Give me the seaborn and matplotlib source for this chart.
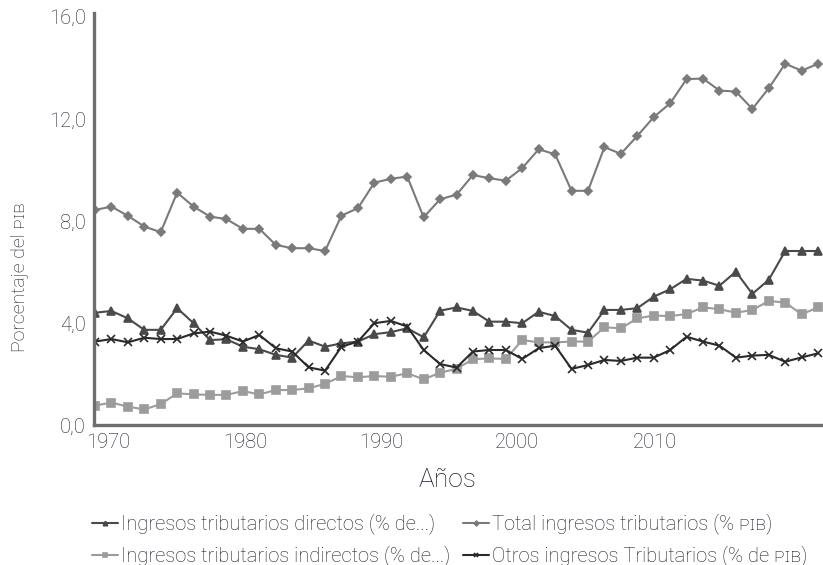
import numpy as np
import pandas as pd
import matplotlib
matplotlib.use("Agg")
import matplotlib.pyplot as plt
import seaborn as sns

# datos (porcentaje del PIB), 45 observaciones
periodo = list(range(45))

directos = [4.40, 4.47, 4.18, 3.73, 3.73, 4.58, 3.99, 3.33, 3.36, 3.07,
            2.97, 2.75, 2.64, 3.31, 3.07, 3.20, 3.27, 3.56, 3.64, 3.79,
            3.44, 4.48, 4.61, 4.47, 4.05, 4.05, 3.99, 4.44, 4.27, 3.73,
            3.62, 4.51, 4.51, 4.58, 5.03, 5.32, 5.73, 5.66, 5.46, 6.01,
            5.14, 5.69, 6.82, 6.82, 6.82]

indirectos = [0.76, 0.88, 0.72, 0.61, 0.82, 1.24, 1.20, 1.18, 1.18, 1.33,
              1.20, 1.37, 1.37, 1.44, 1.61, 1.92, 1.87, 1.92, 1.89, 2.03,
              1.79, 2.05, 2.20, 2.58, 2.61, 2.59, 3.33, 3.24, 3.24, 3.27,
              3.27, 3.83, 3.79, 4.18, 4.29, 4.27, 4.35, 4.61, 4.54, 4.40,
              4.51, 4.86, 4.80, 4.34, 4.61]

total = [8.43, 8.56, 8.20, 7.78, 7.56, 9.11, 8.56, 8.17, 8.07, 7.69,
         7.69, 7.06, 6.93, 6.93, 6.82, 8.21, 8.50, 9.50, 9.65, 9.74,
         8.14, 8.85, 9.03, 9.80, 9.67, 9.58, 10.07, 10.81, 10.61, 9.18,
         9.18, 10.89, 10.63, 11.33, 12.07, 12.61, 13.56, 13.58, 13.11, 13.07,
         12.39, 13.20, 14.16, 13.89, 14.16]

otros = [3.27, 3.37, 3.24, 3.42, 3.37, 3.37, 3.59, 3.66, 3.50, 3.27,
         3.53, 3.01, 2.88, 2.26, 2.13, 3.07, 3.27, 3.99, 4.08, 3.86,
         2.94, 2.39, 2.25, 2.88, 2.94, 2.94, 2.59, 3.01, 3.11, 2.20,
         2.35, 2.55, 2.51, 2.64, 2.64, 2.94, 3.46, 3.27, 3.11, 2.64,
         2.72, 2.75, 2.48, 2.65, 2.81]

etiquetas_x = ["1970", "1980", "1990", "2000", "2010"]
etiquetas_y = ["0,0", "4,0", "8,0", "12,0", "16,0"]

nombres = ["Ingresos tributarios directos (% de...)",
           "Ingresos tributarios indirectos (% de...)",
           "Total ingresos tributarios (% \u1d18\u026a\u0299)",
           "Otros ingresos Tributarios (% de \u1d18\u026a\u0299)"]

sns.set_style("white")
plt.rcParams['font.family'] = ['Roboto', 'DejaVu Sans']
plt.rcParams['font.weight'] = 'light'
txt = '#1e1e2a'

fig = plt.figure(figsize=(8.23, 5.65), dpi=100)
ax = fig.add_axes([94 / 823, 1 - 425 / 565, 729 / 823, 412 / 565])

series = [(directos, '#4a4a4a', '^', 5.8),
          (indirectos, '#9c9c9c', 's', 5.5),
          (total, '#7a7a7a', 'D', 4.3),
          (otros, '#2a2a2a', 'x', 5.5)]
for (vals, col, mk, ms), nom in zip(series, nombres):
    sns.lineplot(x=periodo, y=vals, ax=ax, color=col, marker=mk,
                 markersize=ms, markeredgecolor=col, markeredgewidth=1.2,
                 linewidth=1.5, label=nom)

ax.set_xlim(-0.06, 44.3)
ax.set_ylim(0, 16.15)
ax.set_xticks([0.79, 9.13, 17.41, 25.68, 34.08])
ax.set_xticklabels(etiquetas_x, fontsize=14.5, color=txt)
ax.set_yticks([0, 4, 8, 12, 16])
ax.set_yticklabels(etiquetas_y, fontsize=14.5, color=txt)
ax.tick_params(length=0, pad=6)

for s in ['top', 'right']:
    ax.spines[s].set_visible(False)
for s in ['left', 'bottom']:
    ax.spines[s].set_color('#6e6e6e')
    ax.spines[s].set_linewidth(2.4)

fig.text(448 / 823, 1 - 480 / 565, "Años", fontsize=19, color=txt,
         ha='center', va='center')
fig.text(20 / 823, 1 - 277 / 565, "Porcentaje del \u1d18\u026a\u0299",
         fontsize=14, color=txt, rotation=90, ha='center', va='center')

ax.get_legend().remove()
h, l = ax.get_legend_handles_labels()
fig.legend(h, l, ncol=2, loc='center left', bbox_to_anchor=(78 / 823, 1 - 540 / 565),
           frameon=False, fontsize=14.5, handlelength=1.3, handletextpad=0.15,
           columnspacing=0.6, labelspacing=0.55, markerscale=0.55,
           borderpad=0.2, labelcolor=txt)

fig.savefig('out.png', dpi=100)
